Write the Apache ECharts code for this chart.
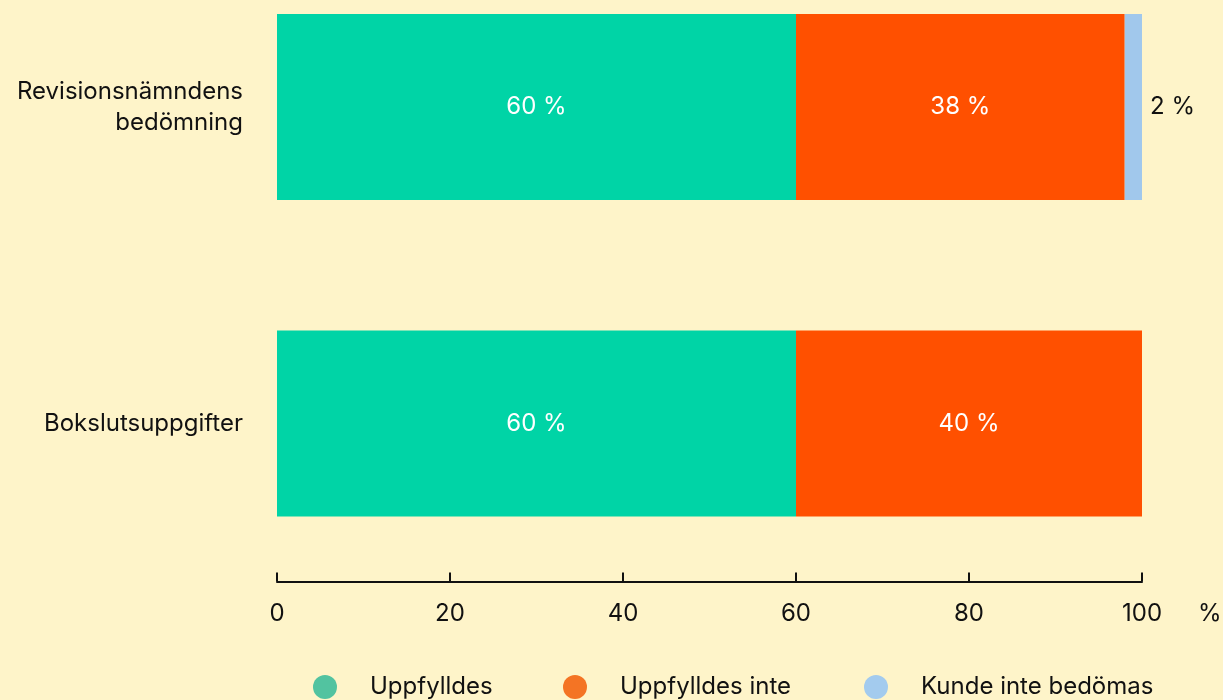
<!DOCTYPE html>
<html>
<head>
<meta charset="utf-8">
<script src="https://cdn.jsdelivr.net/npm/echarts@6/dist/echarts.min.js"></script>
<style>
  html, body { margin: 0; padding: 0; background: #fef4c9; }
  #chart { width: 1223px; height: 700px; }
</style>
</head>
<body>
<div id="chart"></div>
<script>
  // data
  const categories = ['Revisionsnämndens\nbedömning', 'Bokslutsuppgifter']
  const seriesNames = ['Uppfylldes', 'Uppfylldes inte', 'Kunde inte bedömas']
  const uppfylldes = [60, 60]
  const uppfylldesInte = [38, 40]
  const kundeInte = [2, 0]
  const xTicks = [0, 20, 40, 60, 80, 100]

  const barColors = ['#00d4a6', '#ff5000', '#a1c8ec']
  const legendColors = ['#52c3a0', '#f47424', '#a3cbee']
  const legendLeft = [308, 558, 859]
  const font = 'Inter, "Liberation Sans", sans-serif'
  const fs = 24

  let myChart = echarts.init(document.getElementById('chart'))

  function pct(p) {
    return p.value ? p.value + ' %' : ''
  }

  let options = {
    backgroundColor: '#fef4c9',
    textStyle: { fontFamily: font },
    // grid runs from first bar centre to second bar centre
    grid: {
      left: 277,
      right: 81,
      top: 107,
      bottom: 276.5,
      containLabel: false
    },
    xAxis: {
      type: 'value',
      min: 0,
      max: 100,
      interval: 20,
      offset: 158,
      name: '%',
      nameLocation: 'end',
      nameGap: 56,
      nameTextStyle: {
        color: '#111',
        fontSize: fs,
        verticalAlign: 'top',
        padding: [20, 0, 0, 0]
      },
      axisLine: { show: true, lineStyle: { color: '#111', width: 2 } },
      axisTick: { show: true, inside: true, length: 9, lineStyle: { color: '#111', width: 2 } },
      splitLine: { show: false },
      axisLabel: {
        color: '#111',
        fontSize: fs,
        margin: 20,
        formatter: (v) => xTicks.indexOf(v) >= 0 ? v : ''
      }
    },
    yAxis: {
      type: 'category',
      inverse: true,
      boundaryGap: false,
      data: categories,
      axisLine: { show: false },
      axisTick: { show: false },
      splitLine: { show: false },
      axisLabel: {
        color: '#111',
        fontSize: fs,
        lineHeight: 31,
        margin: 34,
        align: 'right'
      }
    },
    legend: seriesNames.map((n, i) => ({
      left: legendLeft[i],
      top: 670,
      icon: 'circle',
      itemWidth: 24,
      itemHeight: 24,
      selectedMode: false,
      textStyle: { color: '#111', fontSize: fs, padding: [0, 0, 0, 28] },
      data: [{ name: n, itemStyle: { color: legendColors[i] } }]
    })),
    series: [
      {
        name: seriesNames[0],
        type: 'bar',
        stack: 'tot',
        barWidth: 186,
        clip: false,
        data: uppfylldes,
        itemStyle: { color: barColors[0] },
        label: { show: true, position: 'inside', color: '#fff', fontSize: fs, formatter: pct }
      },
      {
        name: seriesNames[1],
        type: 'bar',
        stack: 'tot',
        barWidth: 186,
        clip: false,
        data: uppfylldesInte,
        itemStyle: { color: barColors[1] },
        label: { show: true, position: 'inside', color: '#fff', fontSize: fs, formatter: pct }
      },
      {
        name: seriesNames[2],
        type: 'bar',
        stack: 'tot',
        barWidth: 186,
        clip: false,
        data: kundeInte,
        itemStyle: { color: barColors[2] },
        label: { show: true, position: 'right', distance: 8, color: '#111', fontSize: fs, formatter: pct }
      }
    ]
  }
  myChart.setOption(options)
  window.addEventListener('resize', () => {
    myChart.resize()
  })
</script>
</body>
</html>
